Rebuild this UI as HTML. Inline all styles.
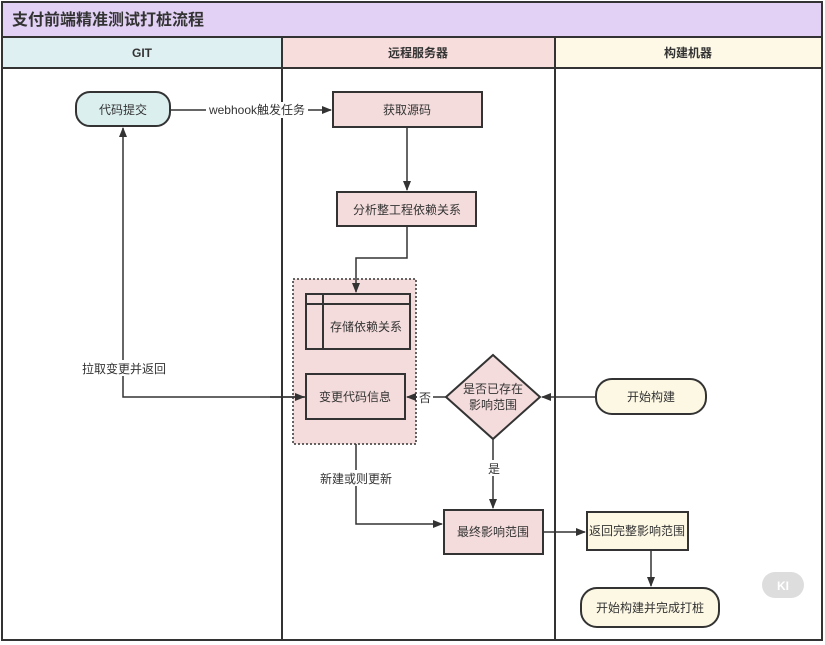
<!DOCTYPE html>
<html><head><meta charset="utf-8"><style>
html,body{margin:0;padding:0;background:#fff}
svg{display:block}
text{font-family:"Liberation Sans","Noto Sans CJK SC",sans-serif;fill:#333}
</style></head><body>
<svg width="825" height="645" viewBox="0 0 825 645" xmlns="http://www.w3.org/2000/svg">
<defs>
<marker id="a" markerWidth="10" markerHeight="10" refX="9" refY="5" orient="auto" markerUnits="userSpaceOnUse">
<path d="M0,1 L10,5 L0,9 Z" fill="#333"/></marker>
</defs>
<rect x="0" y="0" width="825" height="645" fill="#fff"/>
<!-- title -->
<rect x="2" y="2" width="820" height="35" fill="#e2d1f5" stroke="#333" stroke-width="2"/>
<text x="12" y="25" font-size="16" font-weight="bold">支付前端精准测试打桩流程</text>
<!-- headers -->
<rect x="2" y="37" width="280" height="31" fill="#dff0f3" stroke="#333" stroke-width="2"/>
<rect x="282" y="37" width="273" height="31" fill="#f7dedd" stroke="#333" stroke-width="2"/>
<rect x="555" y="37" width="267" height="31" fill="#fdf9e6" stroke="#333" stroke-width="2"/>
<text x="142" y="57" font-size="12" font-weight="bold" text-anchor="middle">GIT</text>
<text x="418" y="57" font-size="12" font-weight="bold" text-anchor="middle">远程服务器</text>
<text x="688" y="57" font-size="12" font-weight="bold" text-anchor="middle">构建机器</text>
<!-- lanes -->
<rect x="2" y="68" width="820" height="572" fill="none" stroke="#333" stroke-width="2"/>
<line x1="282" y1="68" x2="282" y2="640" stroke="#333" stroke-width="2"/>
<line x1="555" y1="68" x2="555" y2="640" stroke="#333" stroke-width="2"/>

<!-- group -->
<rect x="293" y="279" width="123" height="165" fill="#f5dcdc" stroke="#333" stroke-width="1.5" stroke-dasharray="2,2"/>

<!-- edges -->
<g stroke="#333" stroke-width="1.5" fill="none">
<line x1="170" y1="110" x2="331" y2="110" marker-end="url(#a)"/>
<line x1="407" y1="127" x2="407" y2="190" marker-end="url(#a)"/>
<polyline points="407,226 407,258 356,258 356,292" marker-end="url(#a)"/>
<polyline points="306,397 123,397 123,128" marker-end="url(#a)"/>
<line x1="270" y1="397" x2="304" y2="397" marker-end="url(#a)"/>
<line x1="446" y1="397" x2="407" y2="397" marker-end="url(#a)"/>
<line x1="596" y1="397" x2="542" y2="397" marker-end="url(#a)"/>
<line x1="493" y1="439" x2="493" y2="508" marker-end="url(#a)"/>
<polyline points="356,444 356,524 442,524" marker-end="url(#a)"/>
<line x1="543" y1="532" x2="585" y2="532" marker-end="url(#a)"/>
<line x1="651" y1="550" x2="651" y2="586" marker-end="url(#a)"/>
</g>
<!-- labels on edges -->
<rect x="206" y="102" width="102" height="16" fill="#fff"/>
<text x="257" y="114" font-size="12" text-anchor="middle">webhook触发任务</text>
<rect x="78" y="360" width="92" height="16" fill="#fff"/>
<text x="124" y="373" font-size="12" text-anchor="middle">拉取变更并返回</text>
<rect x="417" y="389" width="16" height="16" fill="#fff"/>
<text x="425" y="402" font-size="12" text-anchor="middle">否</text>
<rect x="486" y="460" width="16" height="16" fill="#fff"/>
<text x="494" y="473" font-size="12" text-anchor="middle">是</text>
<rect x="314" y="470" width="84" height="16" fill="#fff"/>
<text x="356" y="483" font-size="12" text-anchor="middle">新建或则更新</text>

<!-- nodes -->
<g stroke="#333" stroke-width="2">
<rect x="76" y="92" width="94" height="34" rx="14" fill="#dcefef"/>
<rect x="333" y="92" width="149" height="35" fill="#f5dcdc"/>
<rect x="337" y="192" width="139" height="34" fill="#f5dcdc"/>
<rect x="306" y="294" width="104" height="55" fill="#f5dcdc"/>
<line x1="306" y1="304" x2="410" y2="304"/>
<line x1="323" y1="294" x2="323" y2="349"/>
<rect x="306" y="374" width="99" height="45" fill="#f5dcdc"/>
<polygon points="493,355 540,397 493,439 446,397" fill="#f5dcdc"/>
<rect x="596" y="379" width="110" height="35" rx="16" fill="#fdf8e4"/>
<rect x="444" y="510" width="99" height="44" fill="#f5dcdc"/>
<rect x="587" y="512" width="101" height="38" fill="#fdf8e4"/>
<rect x="581" y="588" width="138" height="39" rx="16" fill="#fdf8e4"/>
</g>
<g font-size="12" text-anchor="middle">
<text x="123" y="114">代码提交</text>
<text x="407" y="114">获取源码</text>
<text x="407" y="214">分析整工程依赖关系</text>
<text x="366" y="331">存储依赖关系</text>
<text x="355" y="401">变更代码信息</text>
<text x="493" y="393">是否已存在</text>
<text x="493" y="409">影响范围</text>
<text x="651" y="401">开始构建</text>
<text x="493" y="536">最终影响范围</text>
<text x="637" y="535">返回完整影响范围</text>
<text x="650" y="612">开始构建并完成打桩</text>
</g>
<!-- watermark -->
<rect x="762" y="572" width="42" height="26" rx="13" fill="#ddd"/>
<text x="783" y="590" font-size="12" font-weight="bold" text-anchor="middle" style="fill:#fff">KI</text>
</svg>
</body></html>
